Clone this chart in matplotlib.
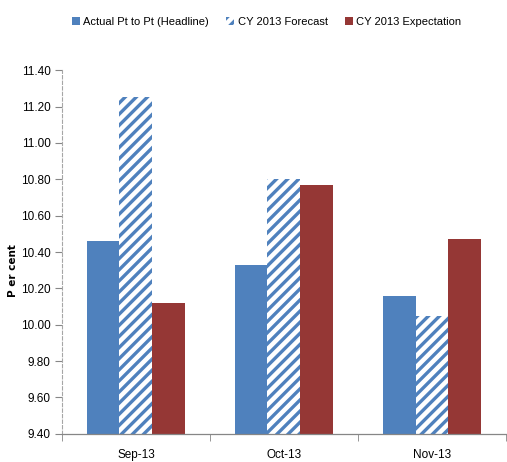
import matplotlib.pyplot as plt
import numpy as np

plt.rcParams['font.family'] = ['Liberation Sans Narrow', 'Liberation Sans', 'DejaVu Sans']
plt.rcParams['hatch.linewidth'] = 2.4

months = ["Sep-13", "Oct-13", "Nov-13"]
actual = [10.46, 10.33, 10.16]
forecast = [11.25, 10.80, 10.05]
expectation = [10.12, 10.77, 10.47]

blue = '#4F81BD'
red = '#953735'

fig = plt.figure(figsize=(5.07, 4.62), dpi=100)
ax = fig.add_axes([0.122, 0.061, 0.876, 0.787])

x = np.arange(len(months))
w = 0.222
ax.bar(x - w, actual, w, color=blue, label="Actual Pt to Pt (Headline)")
# hatch takes the edge colour, so keep the edge but give it no width
ax.bar(x, forecast, w, color='white', hatch='///', edgecolor=blue, linewidth=0,
       label="CY 2013 Forecast")
ax.bar(x + w, expectation, w, color=red, label="CY 2013 Expectation")

ticks = np.arange(9.40, 11.41, 0.20)
ax.set_ylim(9.40, 11.40)
ax.set_yticks(ticks)
ax.set_yticklabels([f"{v:.2f}" for v in ticks], fontsize=8.5)
ax.set_xlim(-0.5, len(months) - 0.5)

# category labels in the middle, tick marks on the group boundaries
ax.set_xticks(x)
ax.set_xticklabels(months, fontsize=8.5)
ax.tick_params(axis='x', length=0, pad=11)
ax.set_xticks(np.arange(-0.5, len(months), 1.0), minor=True)
ax.tick_params(axis='x', which='minor', length=5, color='#868686', direction='out')
ax.tick_params(axis='y', length=5, color='#868686', direction='out', pad=3)

for s in ['top', 'right']:
    ax.spines[s].set_visible(False)
ax.spines['left'].set_color('#A6A6A6')
ax.spines['left'].set_linestyle((0, (3, 2)))
ax.spines['left'].set_linewidth(0.8)
ax.spines['bottom'].set_color('#868686')
ax.spines['bottom'].set_linewidth(0.9)

ax.set_ylabel("P er cent", fontsize=7.5, fontweight='bold', family=['DejaVu Sans'])
ax.yaxis.set_label_coords(-0.098, 0.45)

fig.legend(loc='upper center', bbox_to_anchor=(0.526, 0.985), ncol=3, frameon=False,
           fontsize=8, handlelength=0.7, handleheight=0.7, handletextpad=0.3,
           columnspacing=1.6)

fig.savefig("out.png", dpi=100)
